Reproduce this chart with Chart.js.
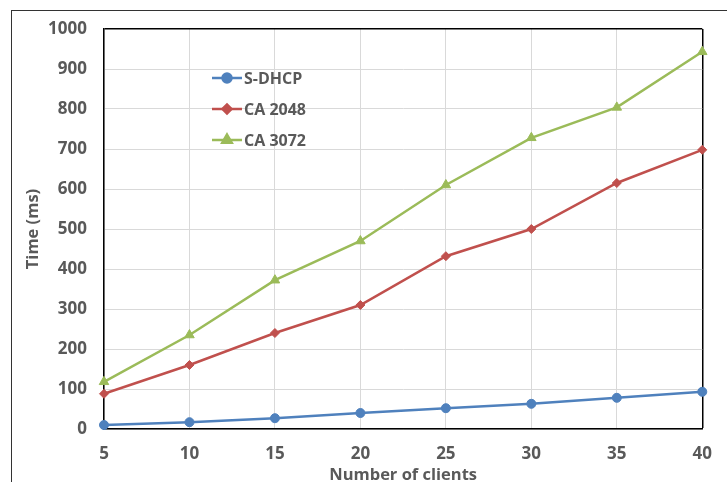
<!DOCTYPE html>
<html>
<head>
<meta charset="utf-8">
<script src="https://cdn.jsdelivr.net/npm/chart.js@4/dist/chart.umd.min.js"></script>
<style>
    html, body { margin: 0; padding: 0; background: #fff; overflow: hidden; }
    #wrap { position: relative; width: 727px; height: 482px; }
    #frame { position: absolute; left: 11px; top: 10px; width: 730px; height: 490px; border-top: 1.5px solid #333; border-left: 1.5px solid #333; }
    canvas { position: absolute; left: 0; top: 0; }
</style>
</head>
<body>
<div id="wrap">
    <div id="frame"></div>
    <canvas id="chart" width="727" height="482"></canvas>
</div>
<script>
const clients = [5, 10, 15, 20, 25, 30, 35, 40];
const sDhcp = [10, 17, 27, 40, 52, 63, 78, 93];
const ca2048 = [88, 160, 240, 310, 432, 500, 615, 698];
const ca3072 = [118, 235, 372, 470, 610, 728, 804, 943];
const yTicks = [0, 100, 200, 300, 400, 500, 600, 700, 800, 900, 1000];

const textColor = '#595959';
const fontFamily = '"Open Sans", sans-serif';

const toPoints = (values) => values.map((v, i) => ({ x: clients[i], y: v }));

// legend drawn inside the plot, like the original
const insideLegend = {
    id: 'insideLegend',
    afterDatasetsDraw(chart) {
        const ctx = chart.ctx;
        const area = chart.chartArea;
        const x0 = area.left + 108;
        const y0 = area.top + 49;
        ctx.save();
        chart.data.datasets.forEach((ds, i) => {
            const y = y0 + i * 31;
            ctx.strokeStyle = ds.borderColor;
            ctx.fillStyle = ds.backgroundColor;
            ctx.lineWidth = ds.borderWidth;
            ctx.beginPath();
            ctx.moveTo(x0, y);
            ctx.lineTo(x0 + 30, y);
            ctx.stroke();
            Chart.helpers.drawPoint(ctx, {
                pointStyle: ds.pointStyle,
                radius: ds.pointRadius,
                rotation: 0,
                borderWidth: 1
            }, x0 + 15, y);
            ctx.fillStyle = textColor;
            ctx.font = 'bold 16px ' + fontFamily;
            ctx.textBaseline = 'middle';
            ctx.textAlign = 'left';
            ctx.fillText(ds.label, x0 + 32, y + 1);
        });
        ctx.restore();
    }
};

const makeDataset = (label, values, color, pointStyle, radius) => ({
    label: label,
    data: toPoints(values),
    borderColor: color,
    backgroundColor: color,
    borderWidth: 2.5,
    pointStyle: pointStyle,
    pointRadius: radius,
    pointHoverRadius: radius,
    pointBorderWidth: 1,
    clip: false,
    tension: 0
});

new Chart(document.querySelector('#chart'), {
    type: 'line',
    data: {
        datasets: [
            makeDataset('S-DHCP', sDhcp, '#4F81BD', 'circle', 4.5),
            makeDataset('CA 2048', ca2048, '#C0504D', 'rectRot', 4.5),
            makeDataset('CA 3072', ca3072, '#9BBB59', 'triangle', 5.5)
        ]
    },
    options: {
        responsive: false,
        animation: false,
        events: [],
        layout: { padding: { left: 0, right: 12, top: 29, bottom: 0 } },
        plugins: {
            legend: { display: false },
            tooltip: { enabled: false }
        },
        scales: {
            x: {
                type: 'linear',
                min: 5,
                max: 40,
                afterFit: (scale) => { scale.height = 53; },
                afterBuildTicks: (scale) => { scale.ticks = clients.map(v => ({ value: v })); },
                ticks: {
                    color: textColor,
                    font: { family: fontFamily, size: 17, weight: 'bold' },
                    padding: 15,
                    maxRotation: 0,
                    callback: (v) => String(v)
                },
                grid: {
                    drawTicks: false,
                    color: (c) => c.tick && c.tick.value === 40 ? '#000' : '#d9d9d9',
                    lineWidth: (c) => c.tick && c.tick.value === 40 ? 1.5 : 1
                },
                border: { color: '#000', width: 1.5 },
                title: {
                    display: true,
                    text: 'Number of clients',
                    color: textColor,
                    font: { family: fontFamily, size: 16.5, weight: 'bold' },
                    padding: { top: 0, bottom: -3 }
                }
            },
            y: {
                min: 0,
                max: 1000,
                afterFit: (scale) => { scale.width = 104; },
                afterBuildTicks: (scale) => { scale.ticks = yTicks.map(v => ({ value: v })); },
                ticks: {
                    color: textColor,
                    font: { family: fontFamily, size: 17, weight: 'bold' },
                    padding: 17,
                    callback: (v) => String(v)
                },
                grid: {
                    drawTicks: false,
                    color: (c) => c.tick && c.tick.value === 1000 ? '#000' : '#d9d9d9',
                    lineWidth: (c) => c.tick && c.tick.value === 1000 ? 1.5 : 1
                },
                border: { color: '#000', width: 1.5 },
                title: {
                    display: true,
                    text: 'Time (ms)',
                    color: textColor,
                    font: { family: fontFamily, size: 16.5, weight: 'bold' },
                    padding: { top: 23, bottom: 0 }
                }
            }
        }
    },
    plugins: [insideLegend]
});
</script>
</body>
</html>
